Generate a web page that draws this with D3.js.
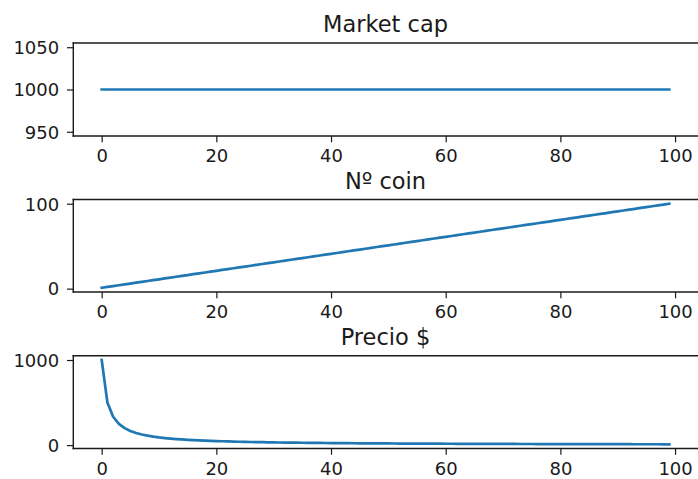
<!DOCTYPE html>
<html>
<head>
<meta charset="utf-8">
<script src="https://cdn.jsdelivr.net/npm/d3@7"></script>
<style>
  html, body { margin: 0; padding: 0; background: #fff; }
  svg { display: block; }
  text { font-family: "DejaVu Sans", sans-serif; fill: #1a1a1a; }
</style>
</head>
<body>
<svg id="chart" width="698" height="479"></svg>
<script>
// Simulation steps (x axis)
const steps = [0,1,2,3,4,5,6,7,8,9,10,11,12,13,14,15,16,17,18,19,20,21,22,23,24,25,26,27,28,29,30,31,32,33,34,35,36,37,38,39,40,41,42,43,44,45,46,47,48,49,50,51,52,53,54,55,56,57,58,59,60,61,62,63,64,65,66,67,68,69,70,71,72,73,74,75,76,77,78,79,80,81,82,83,84,85,86,87,88,89,90,91,92,93,94,95,96,97,98,99];

// Market cap stays flat at 1000
const marketCap = [1000,1000,1000,1000,1000,1000,1000,1000,1000,1000,1000,1000,1000,1000,1000,1000,1000,1000,1000,1000,1000,1000,1000,1000,1000,1000,1000,1000,1000,1000,1000,1000,1000,1000,1000,1000,1000,1000,1000,1000,1000,1000,1000,1000,1000,1000,1000,1000,1000,1000,1000,1000,1000,1000,1000,1000,1000,1000,1000,1000,1000,1000,1000,1000,1000,1000,1000,1000,1000,1000,1000,1000,1000,1000,1000,1000,1000,1000,1000,1000,1000,1000,1000,1000,1000,1000,1000,1000,1000,1000,1000,1000,1000,1000,1000,1000,1000,1000,1000,1000];

// Number of coins in circulation
const coins = [1,2,3,4,5,6,7,8,9,10,11,12,13,14,15,16,17,18,19,20,21,22,23,24,25,26,27,28,29,30,31,32,33,34,35,36,37,38,39,40,41,42,43,44,45,46,47,48,49,50,51,52,53,54,55,56,57,58,59,60,61,62,63,64,65,66,67,68,69,70,71,72,73,74,75,76,77,78,79,80,81,82,83,84,85,86,87,88,89,90,91,92,93,94,95,96,97,98,99,100];

// Price per coin ($)
const price = [1000,500,333.33,250,200,166.67,142.86,125,111.11,100,90.91,83.33,76.92,71.43,66.67,62.5,58.82,55.56,52.63,50,47.62,45.45,43.48,41.67,40,38.46,37.04,35.71,34.48,33.33,32.26,31.25,30.3,29.41,28.57,27.78,27.03,26.32,25.64,25,24.39,23.81,23.26,22.73,22.22,21.74,21.28,20.83,20.41,20,19.61,19.23,18.87,18.52,18.18,17.86,17.54,17.24,16.95,16.67,16.39,16.13,15.87,15.63,15.38,15.15,14.93,14.71,14.49,14.29,14.08,13.89,13.7,13.51,13.33,13.16,12.99,12.82,12.66,12.5,12.35,12.2,12.05,11.9,11.76,11.63,11.49,11.36,11.24,11.11,10.99,10.87,10.75,10.64,10.53,10.42,10.31,10.2,10.1,10];

const titles = ["Market cap", "Nº coin", "Precio $"];
const xTicks = [0, 20, 40, 60, 80, 100];
const yTicksCap = [950, 1000, 1050];
const yTicksCoins = [0, 100];
const yTicksPrice = [0, 1000];

const panels = [
  { title: titles[0], values: marketCap, yTicks: yTicksCap, top: 43, bottom: 136 },
  { title: titles[1], values: coins, yTicks: yTicksCoins, top: 199.5, bottom: 292 },
  { title: titles[2], values: price, yTicks: yTicksPrice, top: 355.8, bottom: 448.5 }
];

const left = 73.3, right = 697.7;
const tickLen = 6.3, tickPad = 6.3;
const lineColor = "#1f77b4";
const svg = d3.select("#chart");

// padded extent, like a 5% autoscale margin
function paddedDomain(vals) {
  let [lo, hi] = d3.extent(vals);
  if (lo === hi) { lo -= Math.abs(lo) * 0.05; hi += Math.abs(hi) * 0.05; }
  const m = (hi - lo) * 0.05;
  return [lo - m, hi + m];
}

const x = d3.scaleLinear().domain(paddedDomain(steps)).range([left, right]);

panels.forEach(p => {
  const y = d3.scaleLinear().domain(paddedDomain(p.values)).range([p.bottom, p.top]);
  const g = svg.append("g");

  // data line
  g.append("path")
    .datum(steps.map((s, i) => [s, p.values[i]]))
    .attr("fill", "none")
    .attr("stroke", lineColor)
    .attr("stroke-width", 2.7)
    .attr("stroke-linejoin", "round")
    .attr("stroke-linecap", "square")
    .attr("d", d3.line().x(d => x(d[0])).y(d => y(d[1])));

  // spines: left, top, bottom
  const spine = { stroke: "#1a1a1a", "stroke-width": 1.4, "stroke-linecap": "square" };
  [[left, p.top, left, p.bottom], [left, p.top, right + 2, p.top], [left, p.bottom, right + 2, p.bottom]]
    .forEach(([x1, y1, x2, y2]) => {
      const l = g.append("line").attr("x1", x1).attr("y1", y1).attr("x2", x2).attr("y2", y2);
      Object.entries(spine).forEach(([k, v]) => l.attr(k, v));
    });

  // x axis
  const xa = g.append("g").attr("transform", `translate(0,${p.bottom})`)
    .call(d3.axisBottom(x).tickValues(xTicks).tickSize(tickLen).tickPadding(tickPad).tickFormat(d3.format("d")));
  xa.select(".domain").remove();
  xa.selectAll("line").attr("stroke", "#1a1a1a").attr("stroke-width", 1.2);
  xa.selectAll("text").style("font-size", "18px").attr("fill", "#1a1a1a")
    .attr("font-family", "DejaVu Sans").attr("dy", "0.76em");

  // y axis
  const ya = g.append("g").attr("transform", `translate(${left},0)`)
    .call(d3.axisLeft(y).tickValues(p.yTicks).tickSize(tickLen).tickPadding(tickPad + 1.5).tickFormat(d3.format("d")));
  ya.select(".domain").remove();
  ya.selectAll("line").attr("stroke", "#1a1a1a").attr("stroke-width", 1.2);
  ya.selectAll("text").style("font-size", "18px").attr("fill", "#1a1a1a")
    .attr("font-family", "DejaVu Sans").attr("dy", "0.35em");

  // title
  g.append("text")
    .attr("x", (left + right) / 2)
    .attr("y", p.top - 11)
    .attr("text-anchor", "middle")
    .style("font-size", "22.5px")
    .text(p.title);
});
</script>
</body>
</html>
